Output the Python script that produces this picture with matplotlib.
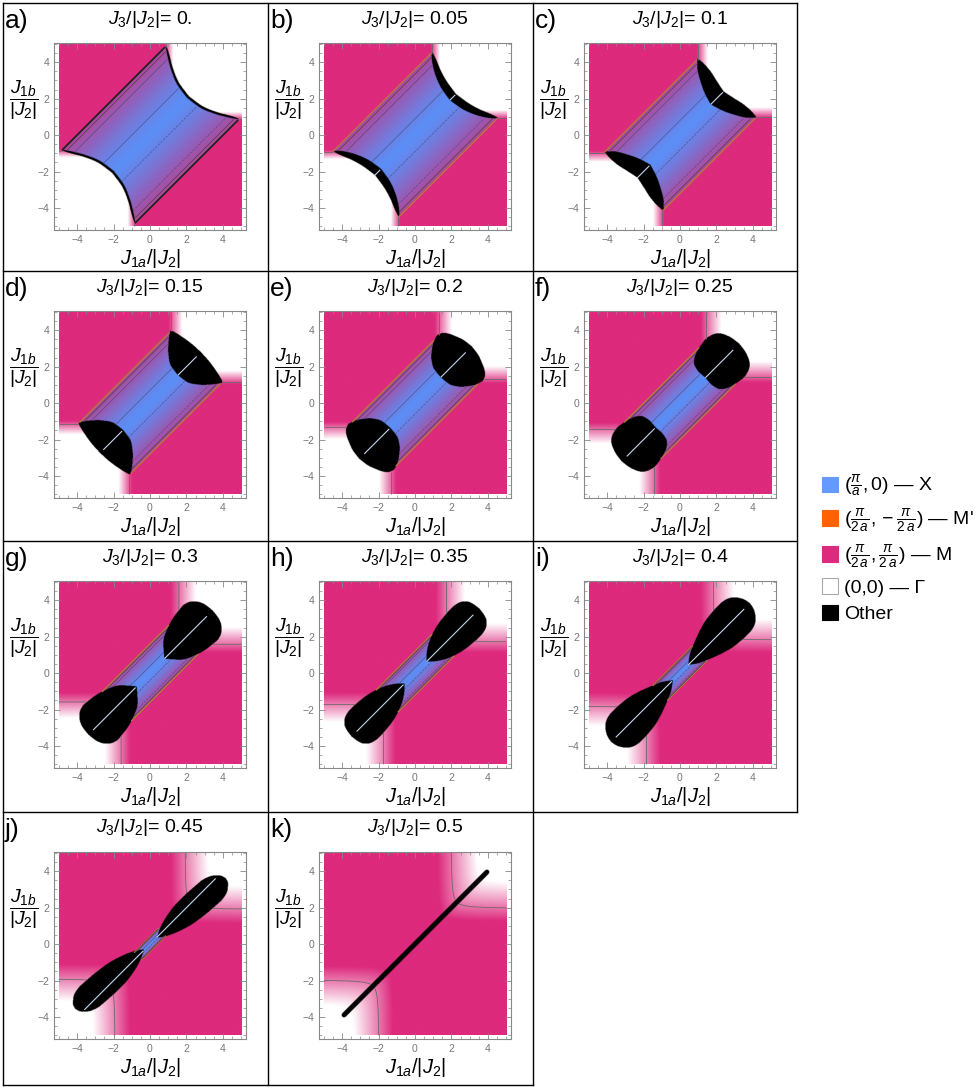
import numpy as np
import matplotlib
matplotlib.use("Agg")
import matplotlib.pyplot as plt
from matplotlib.patches import Patch
from matplotlib.colors import to_rgb

plt.rcParams['font.family'] = ['Liberation Sans', 'DejaVu Sans']
plt.rcParams['mathtext.fontset'] = 'custom'
plt.rcParams['mathtext.rm'] = 'Liberation Sans'
plt.rcParams['mathtext.it'] = 'Liberation Sans:italic'
plt.rcParams['mathtext.bf'] = 'Liberation Sans:bold'

# ---- data ----
panel_labels = ['a)', 'b)', 'c)', 'd)', 'e)', 'f)', 'g)', 'h)', 'i)', 'j)', 'k)']
j3_text = ['0.', '0.05', '0.1', '0.15', '0.2', '0.25', '0.3', '0.35', '0.4', '0.45', '0.5']
# full width of the X strip in J1b-J1a
strip_width = [4.0, 3.6, 3.2, 2.8, 2.4, 2.0, 1.6, 1.2, 0.8, 0.4, 0.0]
# "Other" lobes: s=(J1a+J1b)/2 from s_in to s_out, for |d|/dmax on q_grid, d=(J1b-J1a)/2
q_grid = [0.0, 0.3, 0.6, 0.8, 0.93, 1.0]
lobe_dmax = [2.0, 1.8, 1.6, 1.42, 1.25, 1.05, 0.95, 0.78, 0.8, 0.55, 0.1]
lobe_tilt = [0, 0, 0, 0, 0, 0, 0, 0, 0, -0.07, 0]
lobe_in = [
    [2.0, 2.09, 2.33, 2.56, 2.73, 2.83],
    [1.88, 1.97, 2.17, 2.38, 2.56, 2.70],
    [1.65, 1.80, 2.03, 2.22, 2.40, 2.53],
    [1.50, 1.56, 1.83, 2.12, 2.35, 2.50],
    [1.38, 1.42, 1.62, 1.90, 2.15, 2.40],
    [1.36, 1.34, 1.40, 1.60, 1.95, 2.35],
    [0.76, 1.00, 1.30, 1.72, 2.15, 2.70],
    [0.60, 0.85, 1.22, 1.62, 2.05, 2.60],
    [0.42, 0.75, 1.30, 1.75, 2.15, 2.70],
    [0.34, 0.60, 1.00, 1.40, 1.80, 2.40],
    [0.0, 0.0, 0.0, 0.0, 0.0, 0.0],
]
lobe_out = [
    [2.10, 2.19, 2.43, 2.66, 2.80, 2.85],
    [2.22, 2.30, 2.45, 2.60, 2.68, 2.72],
    [2.36, 2.46, 2.56, 2.58, 2.57, 2.55],
    [2.76, 2.74, 2.68, 2.62, 2.57, 2.52],
    [3.08, 3.03, 2.90, 2.78, 2.65, 2.45],
    [3.22, 3.18, 3.08, 2.95, 2.75, 2.50],
    [3.40, 3.37, 3.28, 3.13, 2.97, 2.75],
    [3.50, 3.47, 3.40, 3.27, 3.10, 2.85],
    [3.80, 3.75, 3.62, 3.47, 3.28, 3.05],
    [3.85, 3.80, 3.65, 3.50, 3.30, 3.10],
    [4.0, 4.0, 3.98, 3.95, 3.90, 3.85],
]
line_gap = [0, 0.01, 0.01, 0.2, 0.3, 0.3, 0.28, 0.3, 0.28, 0.25, 0]
# Gamma / M crossover: saturated below fade_lo, white above fade_hi
fade_lo = [0.80, 0.85, 0.90, 1.00, 1.05, 1.10, 1.10, 1.10, 1.10, 1.10, 1.20]
fade_hi = [1.25, 1.35, 1.50, 1.75, 2.00, 2.25, 2.50, 2.70, 2.90, 3.10, 3.30]
fade_line = [0.88, 0.92, 1.00, 1.15, 1.30, 1.42, 1.58, 1.72, 1.82, 1.90, 1.95]
fade_round = [0, 0, 0, 0, 0, 0, 0.05, 0.1, 0.2, 0.3, 0.35]

legend_labels = [r'$(\frac{\pi}{a},0)$ — X',
                 r"$(\frac{\pi}{2\,a},-\frac{\pi}{2\,a})$ — M'",
                 r'$(\frac{\pi}{2\,a},\frac{\pi}{2\,a})$ — M',
                 r'(0,0) — Γ',
                 'Other']
legend_colors = ['#6699ff', '#ff6200', '#dd2a7d', '#ffffff', '#000000']

pink = np.array(to_rgb('#dd2a7d'))
white = np.ones(3)
blue = np.array(to_rgb('#5b8ff6'))
purple = np.array(to_rgb('#b0479a'))

# ---- layout (pixels) ----
W_PX, H_PX = 978, 1091
col_x = [3, 268, 533, 797]
row_y = [3, 271, 541, 812, 1085]

n = 500
grid = np.linspace(-5, 5, n)
U, V = np.meshgrid(grid, grid)
S = (U + V) / 2
D = (V - U) / 2
SA = np.abs(S)
DD = np.where(S >= 0, D, -D)


def pchip(xk, yk, x):
    # monotone cubic through the read-off points, for smooth outlines
    xk = np.asarray(xk, float)
    yk = np.asarray(yk, float)
    h = np.diff(xk)
    dl = np.diff(yk) / h
    m = np.zeros_like(yk)
    m[0], m[-1] = dl[0], dl[-1]
    for i in range(1, len(xk) - 1):
        if dl[i - 1] * dl[i] > 0:
            w1 = 2 * h[i] + h[i - 1]
            w2 = h[i] + 2 * h[i - 1]
            m[i] = (w1 + w2) / (w1 / dl[i - 1] + w2 / dl[i])
    x = np.clip(x, xk[0], xk[-1])
    idx = np.clip(np.searchsorted(xk, x) - 1, 0, len(h) - 1)
    t = (x - xk[idx]) / h[idx]
    h00 = 2 * t ** 3 - 3 * t ** 2 + 1
    h10 = t ** 3 - 2 * t ** 2 + t
    h01 = -2 * t ** 3 + 3 * t ** 2
    h11 = t ** 3 - t ** 2
    return h00 * yk[idx] + h10 * h[idx] * m[idx] + h01 * yk[idx + 1] + h11 * h[idx] * m[idx + 1]


def s_inner(k, d):
    return pchip(q_grid, lobe_in[k], abs(d) / lobe_dmax[k])


fig = plt.figure(figsize=(W_PX / 100, H_PX / 100), dpi=100)

bg = fig.add_axes([0, 0, 1, 1])
bg.set_xlim(0, W_PX)
bg.set_ylim(H_PX, 0)
bg.axis('off')
for y in row_y[:4]:
    bg.plot([col_x[0], col_x[3]], [y, y], color='k', lw=1)
bg.plot([col_x[0], col_x[2]], [row_y[4], row_y[4]], color='k', lw=1)
for x in col_x[:3]:
    bg.plot([x, x], [row_y[0], row_y[4]], color='k', lw=1)
bg.plot([col_x[3], col_x[3]], [row_y[0], row_y[3]], color='k', lw=1)

for k in range(11):
    col, row = k % 3, k // 3
    cx, cy = col_x[col], row_y[row]
    left, top, aw, ah = cx + 51, cy + 40, 192, 187
    ax = fig.add_axes([left / W_PX, 1 - (top + ah) / H_PX, aw / W_PX, ah / H_PX])

    hw = strip_width[k] / 2
    dc = DD - lobe_tilt[k] * SA
    q = np.abs(dc) / lobe_dmax[k]
    s_in = pchip(q_grid, lobe_in[k], q)
    s_out = pchip(q_grid, lobe_out[k], q)
    lobe = (q <= 1) & (SA >= s_in) & (SA <= s_out)
    strip = (np.abs(D) < hw) & (SA < s_in) & ~lobe

    sm = SA - np.sqrt(D ** 2 + fade_round[k] ** 2)
    g = np.clip((sm - fade_lo[k]) / (fade_hi[k] - fade_lo[k]), 0, 1)
    rgb = pink * (1 - g[..., None]) + white * g[..., None]
    if hw > 0:
        r = np.clip(np.abs(D) / hw, 0, 1) ** 1.3
        sc = blue * (1 - r[..., None]) + purple * r[..., None]
        rgb[strip] = sc[strip]
    rgb[lobe] = 0.0

    ax.imshow(rgb, extent=(-5, 5, -5, 5), origin='lower', interpolation='bilinear')

    # Gamma/M contour line
    smm = np.where(strip | lobe, np.nan, sm)
    ax.contour(U, V, smm, levels=[fade_line[k]], colors='#6a6a6a', linewidths=0.6)

    if hw > 0:
        # contour lines inside the strip
        dm = np.where(strip, D, np.nan)
        lv = sorted([-0.25 * hw, 0.25 * hw, -0.8 * hw, 0.8 * hw])
        ax.contour(U, V, dm, levels=lv, colors='#3a3a5a', linewidths=0.5, alpha=0.6)
        # strip edges
        for sg in (1, -1):
            for frac, colr, lw in ((1.0, '#b87a35' if k else '#222222', 0.9 if k else 1.3),
                                   (0.93, '#444444', 0.5)):
                d0 = sg * hw * frac
                se = s_inner(k, d0)
                ss = np.array([-se, se])
                ax.plot(ss - d0, ss + d0, color=colr, lw=lw, solid_capstyle='butt')
    # light line along the diagonal inside the lobes
    if 0 < k < 10:
        s_a = lobe_in[k][0] + 0.03
        s_b = lobe_out[k][0] - line_gap[k]
        for sg in (1, -1):
            ss = sg * np.array([s_a, s_b])
            ax.plot(ss, ss, color='#c6d6f0', lw=0.8, solid_capstyle='butt')

    ax.set_xlim(-5.25, 5.25)
    ax.set_ylim(-5.2, 5.05)
    ax.set_xticks([-4, -2, 0, 2, 4])
    ax.set_yticks([-4, -2, 0, 2, 4])
    ax.set_xticks(np.arange(-5, 5.01, 0.5), minor=True)
    ax.set_yticks(np.arange(-5, 5.01, 0.5), minor=True)
    ax.tick_params(which='both', direction='in', top=True, right=True,
                   color='#888888', labelcolor='#777777', labelsize=7.5)
    ax.tick_params(which='major', length=4, width=0.6)
    ax.tick_params(which='minor', length=2, width=0.5)
    for sp in ax.spines.values():
        sp.set_color('#888888')
        sp.set_linewidth(0.8)

    ax.text(0.5, 1 + 24 / ah, r'$J_3/|J_2|$= ' + j3_text[k], transform=ax.transAxes,
            ha='center', va='center', fontsize=14)
    ax.text(0.5, -0.15, r'$J_{1a}/|J_2|$', transform=ax.transAxes,
            ha='center', va='center', fontsize=14.5)
    ax.text(-0.16, 0.695, r'$\dfrac{J_{1b}}{|J_2|}$', transform=ax.transAxes,
            ha='center', va='center', fontsize=14)
    fig.text((cx + 2) / W_PX, 1 - (cy + 18) / H_PX, panel_labels[k],
             ha='left', va='center', fontsize=19)

handles = [Patch(facecolor=c, edgecolor='#aaaaaa' if c == '#ffffff' else c, linewidth=0.8)
           for c in legend_colors]
fig.legend(handles, legend_labels, loc='upper left', bbox_to_anchor=(812 / W_PX, 1 - 463 / H_PX),
           frameon=False, fontsize=14, handlelength=0.85, handleheight=0.85,
           handletextpad=0.3, labelspacing=0.4, borderpad=0)

fig.savefig('out.png', dpi=100)
